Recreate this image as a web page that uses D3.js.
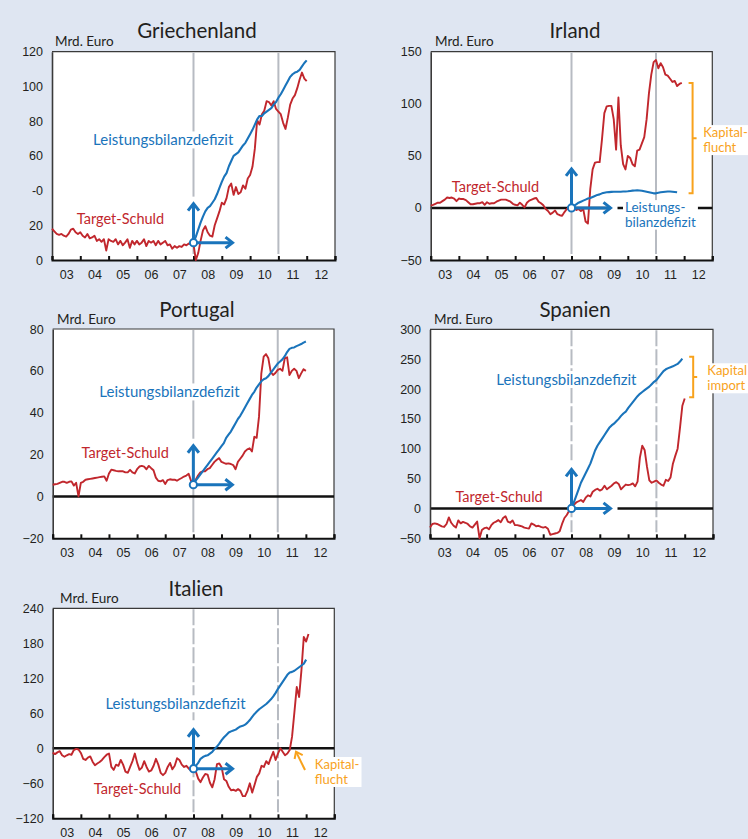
<!DOCTYPE html>
<html><head><meta charset="utf-8">
<script src="https://cdn.jsdelivr.net/npm/d3@7"></script>
<style>
body{margin:0;background:#dfe6f2;}
svg{display:block;font-family:Lato,"Open Sans",sans-serif;}
</style></head><body>
<svg id="c" width="748" height="839"></svg>
<script>
// ---------- data (Mrd. Euro, monthly) ----------
const yearLabels = ["03","04","05","06","07","08","09","10","11","12"];
const titles = ["Griechenland","Irland","Portugal","Spanien","Italien"];

// Target-Schuld, monthly from Jan 2003
const greeceTarget = [18,16.5,15,14.5,15,14,13.5,15,17.5,18,16,15,
 16,14,13,15,12.5,13,14,11,12,10.5,12,5.5,
 12,11,10.5,12,9,11,8.5,10,12,7,11,9,
 11,9,10,12,8,11,10,11,8.5,11,9,10,
 11,8.5,9,6.5,8,7,8,7.5,9,8.5,9.5,9,
 9,0,4,11,17,19.5,16,14,13.5,20,24,28,
 33,32,35.5,42,44,37.5,42,38,39,43,41,47,
 49,53.7,64,80.5,78,84,86,91.5,91,89,91.5,87,
 85.5,84,79,75.5,82,89.5,93,95,99,104,108,104.5,
 103];
const irelandTarget = [2.2,3,4,5,5,6.5,8,10,9.5,10,9,6.5,
 9,8.5,8.5,7.5,5.5,3.5,3.5,4,4.5,4.5,5.5,3,
 5.5,4,4.5,4.5,6,7,8,8,8,7,6,4,
 3,2.5,5,3,0.5,5,7,8,9,9.5,6,4.5,
 2.5,-1,-3,-6,-4.5,-2.5,-6,-7,-7.5,-4,-1,-0.5,
 0,1,-2,-1,-3,-1,-13,-15,18,37,43.5,44,
 44,66,91,97.5,98,98,85,56,106,60,42,37,
 50,48,42,40,55,56,62,68,85,110,128,140,
 142,134,139,135,128,127,124,121,122,117,119,120];
const portugalTarget = [5.6,5.8,6,6.5,7,7,6.5,7,7.2,5.2,6.5,0,
 6.5,7,8,8.2,8.4,8.6,8.8,9,9.2,9.4,9.6,7.5,
 11,12.8,12.5,12.2,12,12,12,11.5,11.5,12.7,11.5,11,
 13,14.3,14.6,14.2,13,14.6,13.5,12.5,9,7.5,7.2,7.8,
 6,7.8,8.2,8,8,7.5,8.2,8.8,9.5,10,10.8,7.5,
 5.5,8,10,11.5,12,12,13,13.5,15,16.5,17.5,18.3,
 16.5,16,15.6,15.8,15.5,15,13,16.5,18,19.5,21.5,22.5,
 23,21.5,28.5,28,38,58.8,66.8,68,66,59.5,58,59,
 60.5,61,60,66,66.5,58,60,61,60,56.5,58.8,60.8,
 60];
const spainTarget = [-32,-26,-25,-26,-28,-30,-31,-26,-15,-24,-29,-32,
 -20,-25,-22.5,-24,-26,-30,-32,-27,-22,-50,-36,-33,
 -32,-35,-28,-24,-22,-19.5,-23,-16,-13,-22,-24,-20,
 -28,-28,-29,-30,-32,-33,-33.5,-25,-27,-30,-29,-31,
 -32,-31,-34,-44,-43,-42,-41,-38,-26,-16,-11,-4,
 2.8,6,10,12,14,11,18,22,20,28,31,33,
 30,32,38,32,35,38,42,44,41,32,36,40,
 39,40,42,37,45,85,105,98,70,47,43,45,
 47,43,40,38,48,46,52,75,88,100,135,172,
 184];
const italyTarget = [-7.5,-10,-7,-5,-12,-14.5,-12,-10,-11,-3,-1,-2,
 -8,-18,-20,-16,-14,-23,-29,-26,-23.5,-20,-15,-11,
 -9,-32,-37,-28,-30,-20,-28,-40,-42,-32,-22,-9,
 -25,-37,-33,-22,-32,-40,-38,-30,-18,-28,-42,-46,
 -42,-32,-25,-36,-30,-17,-20,-28,-32,-30,-35,-38,
 -37,-40,-52,-58,-50,-44,-45,-59,-67,-53,-27,-26,
 -33,-53,-56,-66,-72,-71,-73,-70,-73,-82,-82,-73,
 -60,-76,-63,-49,-43,-30,-32,-22,-27,-16,-6,-20,
 -9,0,-6,-12,-9,-3,20,62,105,88,134,191,
 183,196];

// Leistungsbilanzdefizit (kumuliert), monthly from Jan 2008
const greeceCA = [10,13.5,17.5,21.5,25,28,30,31,33,35,38,41.5,
 45,48,50,54,57,60,61,62,64,66,67.5,70,
 72.5,75,78,81,83,83,84.5,85.5,86.5,87.5,89.5,91,
 93.5,95.5,98,100.5,103,105.5,107,108,108.5,109.5,111.5,113.5,
 115];
const irelandCA = [0,2,3.5,5,6,7,8,9,9.5,10.5,11.5,12.5,
 13,14,14.5,15,15.2,15.4,15.5,15.6,15.6,15.6,15.7,15.8,
 16,16.3,16.6,16.8,17,16.8,16.5,16,15.5,15,14.5,14,
 14,14.5,15,15.3,15.6,15.8,15.8,15.6,15.3,15];
const portugalCA = [5.6,7.5,9,10.5,12,13.5,15,16.5,18,19.5,21,22.5,
 24,25.5,28,29.5,31,33,35,37,38.5,40.5,42.5,44.5,
 46.5,48.5,50,52,53.5,55,56,56.5,57.5,59,60.5,62,
 63.5,64.5,65.5,67,69,70.5,71,71.2,71.8,72.3,72.8,73.5,
 74];
const spainCA = [0,10,21,32,43,51,59,67,75,86,97,105,
 111,117,123,129,135,139,142,146,150,155,159,162,
 168,173,178,183,188,192,195,198,201,204,208,212,
 215,220,225,230,233,235,236.5,238,240,242,246,251];
const italyCA = [-35,-30,-25,-18,-15,-13,-12,-9,-6,-1,3,8,
 14,19,23,27,29,30.5,32,35,37.5,38.5,40.5,44,
 48.5,54,59,63,67,70,73,76,80,84,89,95,
 102,108,114,120,126,130,131,133,136,139,142,145,
 152];

// y-axis ticks
const greeceYTicks = [0,20,40,60,80,100,120];
const greeceYLabels = ["0","20","-0","60","80","100","120"];
const irelandYTicks = [-50,0,50,100,150];
const portugalYTicks = [-20,0,20,40,60,80];
const spainYTicks = [-50,0,50,100,150,200,250,300];
const italyYTicks = [-120,-60,0,60,120,180,240];

// ---------- drawing ----------
const C = {red:"#c1272d", blue:"#1a74bb", orange:"#f8a21c", gray:"#b7bbc2", text:"#231f20"};
const svg = d3.select("#c");
const FONT_ANN = 14.5, FONT_LB = 15, FONT_SIDE = 13;

// each line is its own <text>; one white background behind the block
function textBlock(g, x, y, lines, color, size, lh, bg, anchor){
  const grp = g.append("g");
  const nodes = lines.map((s,i)=>grp.append("text").attr("x",x).attr("y",y+i*lh).attr("fill",color)
    .attr("font-size",size).attr("text-anchor",anchor||"start").text(s).node());
  if(bg){
    const bs = nodes.map(n=>n.getBBox());
    const bx0=d3.min(bs,b=>b.x), bx1=d3.max(bs,b=>b.x+b.width);
    const by0=d3.min(bs,b=>b.y), by1=d3.max(bs,b=>b.y+b.height);
    grp.insert("rect",":first-child").attr("x",bx0-2).attr("y",by0+1).attr("width",bx1-bx0+4)
     .attr("height",by1-by0-1).attr("fill","#fff");
  }
  return grp;
}

function chevron(g, tip, dir, color){
  const L=7, Wd=5.5;
  const [tx,ty]=tip, [dx,dy]=dir, px=-dy, py=dx;
  const pts=[[tx-dx*L+px*Wd, ty-dy*L+py*Wd],[tx,ty],[tx-dx*L-px*Wd, ty-dy*L-py*Wd]];
  g.append("line").attr("x1",tx).attr("y1",ty).attr("x2",tx+dx*7).attr("y2",ty+dy*7)
   .attr("stroke","#fff").attr("stroke-width",5);
  g.append("path").attr("d",d3.line()(pts)).attr("fill","none").attr("stroke",color)
   .attr("stroke-width",3).attr("stroke-linejoin","miter").attr("stroke-linecap","butt");
}

function drawPanel(p){
  const [x0,y0,x1,y1]=p.box;
  const x=d3.scaleLinear().domain([2003,2013]).range([x0,x1]);
  const y=d3.scaleLinear().domain(d3.extent(p.yTicks)).range([y1,y0]);
  const g=svg.append("g");

  g.append("rect").attr("x",x0).attr("y",y0).attr("width",x1-x0).attr("height",y1-y0).attr("fill","#fff");
  g.append("path").attr("d",`M${x0},${y0}H${x1}V${y1}`).attr("fill","none").attr("stroke","#3a3a3a").attr("stroke-width",1.2);

  g.append("text").attr("x",p.titlePos[0]).attr("y",p.titlePos[1]).attr("text-anchor","middle")
   .attr("font-size",20.5).attr("fill",C.text).text(p.title);
  g.append("text").attr("x",p.unitPos[0]).attr("y",p.unitPos[1])
   .attr("font-size",13.5).attr("fill",C.text).text("Mrd. Euro");

  [2008,2011].forEach(v=>g.append("line").attr("x1",x(v)).attr("x2",x(v))
    .attr("y1",y0+1).attr("y2",y1-6).attr("stroke",C.gray).attr("stroke-width",2)
    .attr("stroke-dasharray",p.dashed?"16,3":null));

  if(p.zero) g.append("line").attr("x1",x0).attr("x2",x1).attr("y1",y(0)).attr("y2",y(0))
    .attr("stroke","#111").attr("stroke-width",2.6);

  const ya=g.append("g").attr("transform",`translate(${x0},0)`)
    .call(d3.axisLeft(y).tickValues(p.yTicks).tickSize(0).tickPadding(9)
      .tickFormat((d,i)=>p.yLabels?p.yLabels[i]:d3.format("d")(d)));
  ya.select(".domain").attr("stroke","#3a3a3a").attr("stroke-width",1.6);
  ya.selectAll("text").attr("font-size",12.5).attr("fill",C.text).attr("font-family",null);

  const xa=g.append("g").attr("transform",`translate(0,${y1})`)
    .call(d3.axisBottom(x).tickValues(d3.range(2003,2014)).tickSize(-4).tickFormat(""));
  xa.select(".domain").attr("stroke","#111").attr("stroke-width",2);
  xa.selectAll(".tick line").attr("stroke","#111").attr("stroke-width",2);
  const xl=g.append("g").attr("transform",`translate(0,${y1})`)
    .call(d3.axisBottom(x).tickValues(d3.range(2003.5,2013,1)).tickSize(0).tickPadding(10)
      .tickFormat((d,i)=>yearLabels[i]));
  xl.select(".domain").remove();
  xl.selectAll("text").attr("font-size",12.5).attr("fill",C.text).attr("font-family",null);

  p.annotate(g,x,y);

  const line=d3.line().x(d=>x(d[0])).y(d=>y(d[1]));
  const red=p.target.map((v,i)=>[2003+i/12,v]);
  const blue=p.ca.map((v,i)=>[2008+i/12,v]);
  g.append("path").attr("d",line(red)).attr("fill","none").attr("stroke",C.red).attr("stroke-width",1.9).attr("stroke-linejoin","round");
  g.append("path").attr("d",line(blue)).attr("fill","none").attr("stroke",C.blue).attr("stroke-width",2.1).attr("stroke-linejoin","round");

  const ox=x(2008), oy=y(p.ca[0]);
  const AL=39;
  g.append("line").attr("x1",ox).attr("y1",oy).attr("x2",ox).attr("y2",oy-AL+1).attr("stroke",C.blue).attr("stroke-width",3);
  g.append("line").attr("x1",ox).attr("y1",oy).attr("x2",ox+AL-1).attr("y2",oy).attr("stroke",C.blue).attr("stroke-width",3);
  chevron(g,[ox,oy-AL],[0,-1],C.blue);
  chevron(g,[ox+AL,oy],[1,0],C.blue);
  g.append("circle").attr("cx",ox).attr("cy",oy).attr("r",3.6).attr("fill","#fff").attr("stroke",C.blue).attr("stroke-width",2);

  if(p.after) p.after(g,x,y);
}

function bracket(g,x,y,xv,top,bot,mid){
  const bx=x(xv), yt=y(top), yb=y(bot), ym=y(mid);
  g.append("path").attr("d",`M${bx-4},${yt}H${bx}V${yb}H${bx-4}M${bx},${ym}H${bx+4}`)
   .attr("fill","none").attr("stroke",C.orange).attr("stroke-width",2);
}

const panels=[
 {title:titles[0], target:greeceTarget, ca:greeceCA, yTicks:greeceYTicks, yLabels:greeceYLabels,
  box:[52,51.7,335,260], titlePos:[197,38], unitPos:[55,46], zero:false, dashed:false,
  annotate:(g,x,y)=>{
    textBlock(g,x(2006.93),y(66),["Leistungsbilanzdefizit"],C.blue,FONT_LB,0,true,"middle");
    textBlock(g,x(2005.42),y(21),["Target-Schuld"],C.red,FONT_ANN,0,true,"middle");
  }},
 {title:titles[1], target:irelandTarget, ca:irelandCA, yTicks:irelandYTicks,
  box:[430.7,51.7,712.3,260], titlePos:[575,38], unitPos:[435,46], zero:true, dashed:false,
  annotate:(g,x,y)=>{
    textBlock(g,x(2005.3),y(15.6),["Target-Schuld"],C.red,FONT_ANN,0,true,"middle");
    textBlock(g,x(2009.9),y(-4),["Leistungs-","bilanzdefizit"],C.blue,13.5,14.5,true,"start");
    bracket(g,x,y,2012.3,120,14,67);
    textBlock(g,x(2012.68),y(68),["Kapital-","flucht"],C.orange,FONT_SIDE,15,true,"start");
  }},
 {title:titles[2], target:portugalTarget, ca:portugalCA, yTicks:portugalYTicks,
  box:[52.7,329,334,538.3], titlePos:[197,316.7], unitPos:[57,324], zero:true, dashed:false,
  annotate:(g,x,y)=>{
    textBlock(g,x(2007.15),y(47.3),["Leistungsbilanzdefizit"],C.blue,FONT_LB,0,true,"middle");
    textBlock(g,x(2005.58),y(18.2),["Target-Schuld"],C.red,FONT_ANN,0,true,"middle");
  }},
 {title:titles[3], target:spainTarget, ca:spainCA, yTicks:spainYTicks,
  box:[430,329.3,713,538.3], titlePos:[575,316.7], unitPos:[434,324], zero:true, dashed:true,
  annotate:(g,x,y)=>{
    textBlock(g,x(2007.82),y(206.7),["Leistungsbilanzdefizit"],C.blue,FONT_LB,0,true,"middle");
    textBlock(g,x(2005.44),y(11.2),["Target-Schuld"],C.red,FONT_ANN,0,false,"middle");
    bracket(g,x,y,2012.3,254,186,220);
    textBlock(g,x(2012.8),y(223),["Kapital","import"],C.orange,FONT_SIDE,15,true,"start");
  }},
 {title:titles[4], target:italyTarget, ca:italyCA, yTicks:italyYTicks,
  box:[52.7,608.3,334.3,818.3], titlePos:[196,596], unitPos:[60,603.3], zero:true, dashed:true,
  annotate:(g,x,y)=>{
    textBlock(g,x(2007.36),y(66.9),["Leistungsbilanzdefizit"],C.blue,FONT_LB,0,true,"middle");
    textBlock(g,x(2006.01),y(-78.4),["Target-Schuld"],C.red,FONT_ANN,0,true,"middle");
    textBlock(g,x(2012.31),y(-35.5),["Kapital-","flucht"],C.orange,FONT_SIDE,15,true,"start");
  },
  after:(g,x,y)=>{
    const a=[x(2011.96),y(-37.2)], b=[x(2011.64),y(-5.7)];
    g.append("line").attr("x1",a[0]).attr("y1",a[1]).attr("x2",b[0]).attr("y2",b[1])
     .attr("stroke",C.orange).attr("stroke-width",2);
    const dx=b[0]-a[0], dy=b[1]-a[1], l=Math.hypot(dx,dy), ux=dx/l, uy=dy/l, px=-uy, py=ux;
    g.append("path").attr("d",d3.line()([[b[0]-ux*6+px*4.5,b[1]-uy*6+py*4.5],b,[b[0]-ux*6-px*4.5,b[1]-uy*6-py*4.5]]))
     .attr("fill","none").attr("stroke",C.orange).attr("stroke-width",2);
  }}
];
panels.forEach(drawPanel);
</script>
</body></html>
